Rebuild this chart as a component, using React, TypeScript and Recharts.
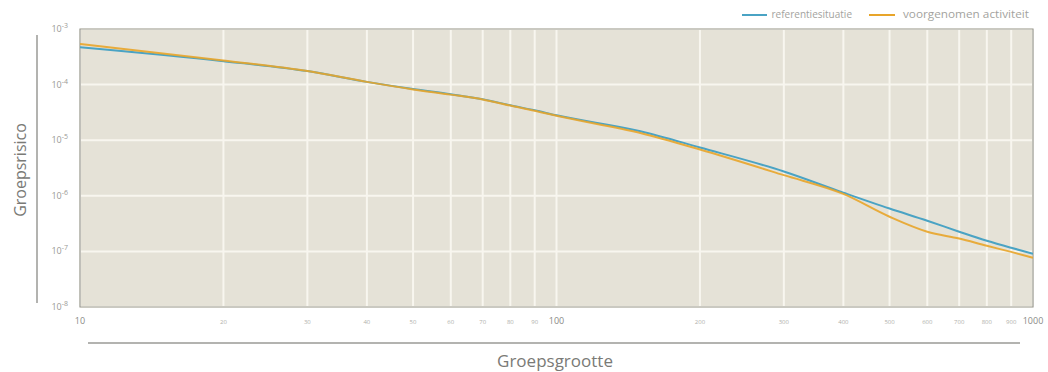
import React from "react";
import { LineChart, Line, XAxis, YAxis, CartesianGrid, ReferenceArea } from "recharts";

const groepsgrootte = [10, 20, 30, 40, 50, 60, 70, 80, 90, 100, 150, 200, 300, 400, 500, 600, 700, 800, 900, 1000];
const referentiesituatie = [4.7e-4, 2.64e-4, 1.75e-4, 1.12e-4, 8.3e-5, 6.7e-5, 5.45e-5, 4.25e-5, 3.45e-5, 2.8e-5, 1.45e-5, 7.4e-6, 2.74e-6, 1.14e-6, 5.9e-7, 3.56e-7, 2.26e-7, 1.55e-7, 1.16e-7, 9.1e-8];
const voorgenomenActiviteit = [5.4e-4, 2.72e-4, 1.75e-4, 1.12e-4, 8.2e-5, 6.6e-5, 5.4e-5, 4.2e-5, 3.4e-5, 2.75e-5, 1.35e-5, 6.8e-6, 2.35e-6, 1.08e-6, 4.2e-7, 2.26e-7, 1.7e-7, 1.26e-7, 9.8e-8, 7.7e-8];
const xTicks = [10, 20, 30, 40, 50, 60, 70, 80, 90, 100, 200, 300, 400, 500, 600, 700, 800, 900, 1000];
const yTicks = [1e-8, 1e-7, 1e-6, 1e-5, 1e-4, 1e-3];
const yExponents = ["-8", "-7", "-6", "-5", "-4", "-3"];
const seriesNames = ["referentiesituatie", "voorgenomen activiteit"];

const data = groepsgrootte.map((n, i) => ({
  n,
  ref: referentiesituatie[i],
  voor: voorgenomenActiviteit[i],
}));

const BLUE = "#4aa3c4";
const ORANGE = "#e8a52a";
const FONT = "'Open Sans', 'Noto Sans', sans-serif";

const XTick = (props: any) => {
  const { x, y, payload } = props;
  const v = payload.value;
  const major = v === 10 || v === 100 || v === 1000;
  return (
    <text x={x} y={y + 9} textAnchor="middle" fontFamily={FONT} fontSize={major ? 9 : 6} fill={major ? "#8a8a86" : "#b0b0aa"}>
      {String(v)}
    </text>
  );
};

const YTick = (props: any) => {
  const { x, y, payload } = props;
  const exp = yExponents[yTicks.indexOf(payload.value)] ?? "";
  return (
    <text x={x - 4} y={y + 3} textAnchor="end" fontFamily={FONT} fontSize={9} fill="#9a9a96">
      10
      <tspan dy={-4} fontSize={7}>{exp}</tspan>
    </text>
  );
};

export default function App() {
  return (
    <div style={{ position: "absolute", left: 0, top: 0, width: 1048, height: 372, background: "#ffffff" }}>
      <LineChart width={1048} height={372} data={data} margin={{ top: 29, right: 15, bottom: 45, left: 20 }}>
        <CartesianGrid fill="#e5e2d7" stroke="#f8f6ef" strokeWidth={2} horizontalValues={yTicks} verticalValues={xTicks} />
        <XAxis
          dataKey="n"
          type="number"
          scale="log"
          domain={[10, 1000]}
          ticks={xTicks}
          interval={0}
          allowDataOverflow
          height={20}
          axisLine={false}
          tickLine={false}
          tick={<XTick />}
        />
        <YAxis
          type="number"
          scale="log"
          domain={[1e-8, 1e-3]}
          ticks={yTicks}
          interval={0}
          allowDataOverflow
          width={60}
          axisLine={false}
          tickLine={false}
          tick={<YTick />}
        />
        <ReferenceArea x1={10} x2={1000} y1={1e-8} y2={1e-3} fill="none" stroke="#9c9c94" strokeWidth={1.2} ifOverflow="visible" />
        <Line dataKey="ref" name={seriesNames[0]} stroke={BLUE} strokeWidth={2} dot={false} type="monotone" isAnimationActive={false} />
        <Line dataKey="voor" name={seriesNames[1]} stroke={ORANGE} strokeWidth={2} dot={false} type="monotone" isAnimationActive={false} strokeOpacity={0.9} />
      </LineChart>
      <svg width={1048} height={372} style={{ position: "absolute", left: 0, top: 0, pointerEvents: "none" }}>
        <line x1={742} y1={15} x2={767} y2={15} stroke={BLUE} strokeWidth={2} />
        <text x={852} y={18} textAnchor="end" fontFamily={FONT} fontSize={10} fill="#a3a39e">{seriesNames[0]}</text>
        <line x1={869} y1={15} x2={895} y2={15} stroke={ORANGE} strokeWidth={2} />
        <text x={903} y={18} fontFamily={FONT} fontSize={10} fill="#a3a39e" textLength={126} lengthAdjust="spacingAndGlyphs">{seriesNames[1]}</text>
        <line x1={37} y1={35} x2={37} y2={303} stroke="#9a9a96" strokeWidth={1.5} />
        <text x={26} y={170} transform="rotate(-90 26 170)" textAnchor="middle" fontFamily={FONT} fontSize={16} fill="#7a7a76">
          Groepsrisico
        </text>
        <line x1={88} y1={343} x2={1020} y2={343} stroke="#9a9a96" strokeWidth={1.5} />
        <text x={555} y={367} textAnchor="middle" fontFamily={FONT} fontSize={17} fill="#7a7a76">
          Groepsgrootte
        </text>
      </svg>
    </div>
  );
}
